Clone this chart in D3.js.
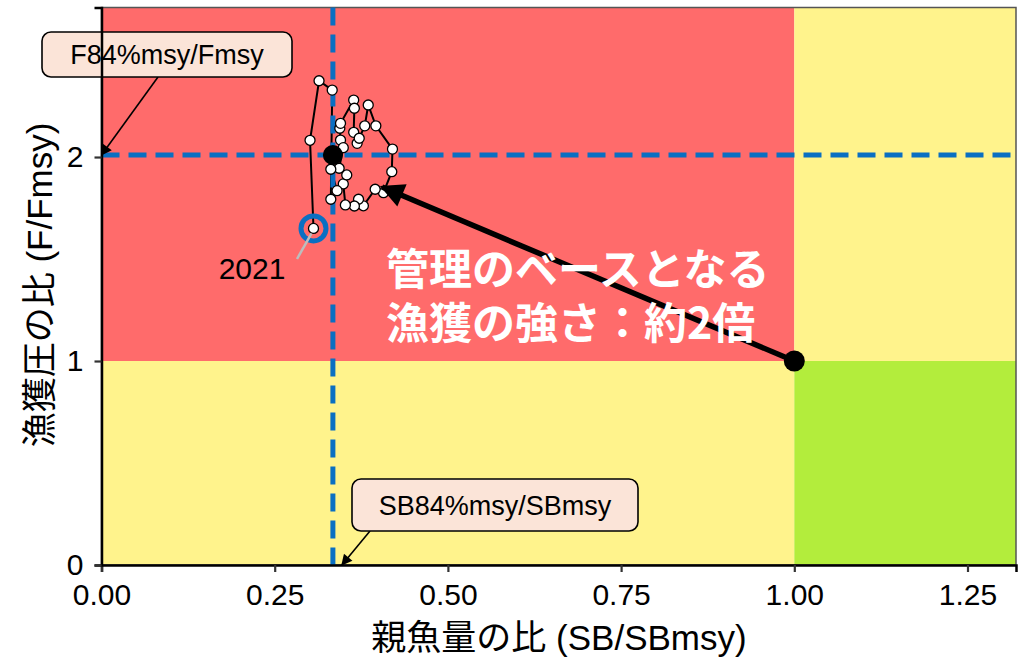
<!DOCTYPE html>
<html>
<head>
<meta charset="utf-8">
<script src="https://cdn.jsdelivr.net/npm/d3@7"></script>
<style>
  html, body { margin: 0; padding: 0; background: #ffffff; }
  svg { display: block; }
</style>
</head>
<body>
<svg id="chart" width="1025" height="658"></svg>
<script>
// Kobe plot: spawning biomass ratio vs fishing pressure ratio, 1992-2021
const years = [1992, 1993, 1994, 1995, 1996, 1997, 1998, 1999, 2000, 2001,
               2002, 2003, 2004, 2005, 2006, 2007, 2008, 2009, 2010, 2011,
               2012, 2013, 2014, 2015, 2016, 2017, 2018, 2019, 2020, 2021];
const sbRatio = [0.345, 0.344, 0.345, 0.364, 0.365, 0.364, 0.369, 0.372, 0.380, 0.385,
                 0.396, 0.420, 0.419, 0.407, 0.395, 0.378, 0.371, 0.365, 0.352, 0.349,
                 0.354, 0.343, 0.349, 0.331, 0.340, 0.331, 0.333, 0.314, 0.301, 0.306];
const fRatio = [2.083, 2.141, 2.165, 2.279, 2.239, 2.121, 2.067, 2.092, 2.153, 2.255,
                2.153, 2.039, 1.928, 1.825, 1.842, 1.761, 1.793, 1.760, 1.765, 1.868,
                1.912, 1.945, 2.046, 1.940, 1.835, 1.793, 2.328, 2.374, 2.082, 1.650];

// Reference values
const sbLimit = 0.334;   // SB84%msy / SBmsy
const fLimit = 2.01;     // F84%msy / Fmsy
const msyPoint = [1.0, 1.0];
const arrowEnd = [0.405, 1.853];

const xTicks = [0, 0.25, 0.5, 0.75, 1.0, 1.25];
const yTicks = [0, 1, 2];
const xDomain = [0, 1.32];
const yDomain = [0, 2.733];

const colRed = "#FF6B6B", colYellow = "#FFF38C", colGreen = "#B3ED3C";
const colBlue = "#0A6FC2";

const svg = d3.select("#chart");
const x = d3.scaleLinear().domain(xDomain).range([101.5, 1016]);
const y = d3.scaleLinear().domain(yDomain).range([565, 7.5]);

const latin = "'Liberation Sans', Arial, 'Noto Sans CJK JP', sans-serif";

// Zone backgrounds
const zones = [
  {x0: 0, x1: 1, y0: 1, y1: yDomain[1], c: colRed},
  {x0: 1, x1: xDomain[1], y0: 1, y1: yDomain[1], c: colYellow},
  {x0: 0, x1: 1, y0: 0, y1: 1, c: colYellow},
  {x0: 1, x1: xDomain[1], y0: 0, y1: 1, c: colGreen}
];
svg.append("g").selectAll("rect").data(zones).join("rect")
  .attr("x", d => x(d.x0)).attr("y", d => y(d.y1))
  .attr("width", d => x(d.x1) - x(d.x0)).attr("height", d => y(d.y0) - y(d.y1))
  .attr("fill", d => d.c);

// Panel border
svg.append("rect")
  .attr("x", x(0)).attr("y", y(yDomain[1]))
  .attr("width", x(xDomain[1]) - x(0)).attr("height", y(0) - y(yDomain[1]))
  .attr("fill", "none").attr("stroke", "#555").attr("stroke-width", 1.5);

// Markers
const defs = svg.append("defs");
defs.append("marker").attr("id", "bigHead").attr("viewBox", "0 0 10 10")
  .attr("refX", 9).attr("refY", 5).attr("markerUnits", "userSpaceOnUse")
  .attr("markerWidth", 30).attr("markerHeight", 24).attr("orient", "auto")
  .append("path").attr("d", "M0,0 L10,5 L0,10 Z").attr("fill", "#000");
defs.append("marker").attr("id", "smallHead").attr("viewBox", "0 0 10 10")
  .attr("refX", 9).attr("refY", 5).attr("markerUnits", "userSpaceOnUse")
  .attr("markerWidth", 13).attr("markerHeight", 11).attr("orient", "auto")
  .append("path").attr("d", "M0,0 L10,5 L0,10 Z").attr("fill", "#000");

// Trajectory line
const pts = years.map((yr, i) => ({year: yr, sb: sbRatio[i], f: fRatio[i]}));
svg.append("path")
  .datum(pts)
  .attr("d", d3.line().x(d => x(d.sb)).y(d => y(d.f)))
  .attr("fill", "none").attr("stroke", "#000").attr("stroke-width", 2);

// Reference dashed lines
svg.append("line")
  .attr("x1", x(0)).attr("x2", x(xDomain[1]))
  .attr("y1", y(fLimit)).attr("y2", y(fLimit))
  .attr("stroke", colBlue).attr("stroke-width", 5).attr("stroke-dasharray", "18,9");
svg.append("line")
  .attr("x1", x(sbLimit)).attr("x2", x(sbLimit))
  .attr("y1", y(yDomain[1])).attr("y2", y(0))
  .attr("stroke", colBlue).attr("stroke-width", 5).attr("stroke-dasharray", "18,9");

// Yearly points
svg.append("g").selectAll("circle").data(pts).join("circle")
  .attr("cx", d => x(d.sb)).attr("cy", d => y(d.f)).attr("r", 5)
  .attr("fill", "#fff").attr("stroke", "#000").attr("stroke-width", 1.3);

// Latest-year ring
const last = pts[pts.length - 1];
svg.append("circle")
  .attr("cx", x(last.sb)).attr("cy", y(last.f)).attr("r", 12.5)
  .attr("fill", "none").attr("stroke", colBlue).attr("stroke-width", 5);

// Latest-year label with leader
svg.append("line")
  .attr("x1", 297).attr("y1", 259)
  .attr("x2", x(last.sb) - 2).attr("y2", y(last.f) + 5)
  .attr("stroke", "#bdbdbd").attr("stroke-width", 2.5);
svg.append("text")
  .attr("x", 252).attr("y", 279)
  .attr("text-anchor", "middle")
  .attr("font-family", latin).attr("font-size", 30)
  .text(String(last.year));

// Limit reference point
svg.append("circle")
  .attr("cx", x(sbLimit)).attr("cy", y(fLimit)).attr("r", 10).attr("fill", "#000");

// MSY point and arrow toward the current management level
svg.append("line")
  .attr("x1", x(msyPoint[0])).attr("y1", y(msyPoint[1]))
  .attr("x2", x(arrowEnd[0])).attr("y2", y(arrowEnd[1]))
  .attr("stroke", "#000").attr("stroke-width", 5.5)
  .attr("marker-end", "url(#bigHead)");
svg.append("circle")
  .attr("cx", x(msyPoint[0])).attr("cy", y(msyPoint[1])).attr("r", 10.5).attr("fill", "#000");

// Annotation text (two lines in one text block)
const noteLines = ["管理のベースとなる", "漁獲の強さ：約2倍"];
svg.append("text")
  .attr("x", 386).attr("y", 285)
  .attr("fill", "#fff")
  .attr("font-family", "'Noto Sans CJK JP', sans-serif")
  .attr("font-weight", 700).attr("font-size", 43)
  .selectAll("tspan").data(noteLines).join("tspan")
  .attr("x", 386).attr("dy", (d, i) => i === 0 ? 0 : 54)
  .text(d => d);

// Reference labels in boxes
const refLabels = [
  {text: "F84%msy/Fmsy", bx: 42, by: 32, bw: 250, bh: 45,
   from: [158, 77], to: [x(0), y(fLimit)]},
  {text: "SB84%msy/SBmsy", bx: 352, by: 479, bw: 286, bh: 52,
   from: [370, 531], to: [x(0.347), y(0)]}
];
refLabels.forEach(l => {
  svg.append("line")
    .attr("x1", l.from[0]).attr("y1", l.from[1])
    .attr("x2", l.to[0]).attr("y2", l.to[1])
    .attr("stroke", "#000").attr("stroke-width", 1.6)
    .attr("marker-end", "url(#smallHead)");
  svg.append("rect")
    .attr("x", l.bx).attr("y", l.by).attr("width", l.bw).attr("height", l.bh)
    .attr("rx", 9).attr("fill", "#FBE4D8").attr("stroke", "#000").attr("stroke-width", 1.6);
  svg.append("text")
    .attr("x", l.bx + l.bw / 2).attr("y", l.by + l.bh / 2 + 9.5)
    .attr("text-anchor", "middle")
    .attr("font-family", latin).attr("font-size", 27)
    .text(l.text);
});

// Axes
const xAxis = svg.append("g").attr("transform", `translate(0,${y(0)})`)
  .call(d3.axisBottom(x).tickValues(xTicks).tickFormat(d3.format(".2f")).tickSizeOuter(0).tickSize(7).tickPadding(12));
const yAxis = svg.append("g").attr("transform", `translate(${x(0)},0)`)
  .call(d3.axisLeft(y).tickValues(yTicks).tickFormat(d3.format("d")).tickSizeOuter(0).tickSize(7).tickPadding(11));
[xAxis, yAxis].forEach(a => {
  a.select(".domain").attr("stroke", "#000").attr("stroke-width", 2.5);
  a.selectAll(".tick line").attr("stroke", "#333").attr("stroke-width", 2.2);
  a.selectAll(".tick text").attr("font-family", latin).attr("font-size", 30).attr("fill", "#000");
});

// Axis titles
svg.append("text")
  .attr("x", 559).attr("y", 650).attr("text-anchor", "middle")
  .attr("font-family", latin).attr("font-size", 35)
  .text("親魚量の比 (SB/SBmsy)");
svg.append("text")
  .attr("transform", "translate(52,285) rotate(-90)").attr("text-anchor", "middle")
  .attr("font-family", latin).attr("font-size", 35)
  .text("漁獲圧の比 (F/Fmsy)");
</script>
</body>
</html>
